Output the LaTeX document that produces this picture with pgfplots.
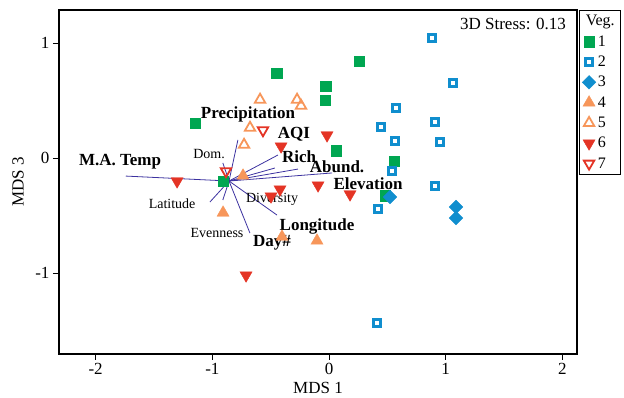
\documentclass[border=0pt]{standalone}
\usepackage{fontspec}
\setmainfont{Liberation Serif}
\usepackage{pgfplots}
\pgfplotsset{compat=1.18}
\definecolor{cg}{RGB}{0,166,81}
\definecolor{cb}{RGB}{16,142,206}
\definecolor{co}{RGB}{247,150,90}
\definecolor{cr}{RGB}{228,52,37}
\definecolor{cv}{RGB}{60,50,160}
\begin{document}
\begin{tikzpicture}[x=1pt,y=1pt]
\useasboundingbox (0,0) rectangle (624,398);
\begin{axis}[
  at={(59pt,44pt)}, anchor=south west,
  scale only axis, width=518pt, height=344pt,
  xmin=-2.314, xmax=2.125, ymin=-1.704, ymax=1.287,
  xtick={-2,-1,0,1,2}, ytick={-1,0,1},
  tick align=outside, xtick pos=bottom, ytick pos=left,
  major tick length=6pt,
  axis line style={line width=1.3pt},
  every tick/.style={black, line width=1pt},
  /pgf/number format/assume math mode=true,
  tick label style={font=\fontsize{17}{20}\selectfont},
  label style={font=\fontsize{17}{20}\selectfont},
  xlabel={MDS 1}, ylabel={MDS 3},
  xlabel style={at={(axis description cs:0.5,-0.099)}, anchor=center},
  ylabel style={at={(axis description cs:-0.079,0.5)}, anchor=center},
  legend style={at={(axis description cs:1.004,1)}, anchor=north west, draw=black,
    font=\fontsize{16}{19}\selectfont, row sep=4.3pt, inner xsep=3pt, inner ysep=3pt,
    cells={anchor=west}},
  legend image code/.code={\draw[#1, only marks] plot coordinates {(5pt,0pt)};},
]
\addlegendimage{empty legend}
\addlegendentry{\hspace*{-12pt}Veg.}
% group 1
\addplot[only marks, mark=square*, mark size=5.3pt, color=cg] coordinates {
(0.257,0.843) (-0.446,0.739) (-0.026,0.626) (-0.034,0.504) (-1.148,0.304)
(0.060,0.061) (0.557,-0.026) (0.480,-0.330) (-0.908,-0.200)};
\addlegendentry{1}
% group 2
\addplot[only marks, mark=square, mark size=3.7pt, color=cb, mark options={line width=3.1pt, fill=white}] coordinates {
(0.883,1.043) (1.063,0.652) (0.574,0.435) (0.446,0.270) (0.908,0.313)
(0.566,0.148) (0.951,0.139) (0.540,-0.113) (0.908,-0.243) (0.420,-0.443) (0.411,-1.435)};
\addlegendentry{2}
% group 3
\addplot[only marks, mark=square*, mark size=4.8pt, color=cb, mark options={rotate=45}] coordinates {
(0.523,-0.339) (1.088,-0.426) (1.088,-0.522)};
\addlegendentry{3}
% group 4
\addplot[only marks, mark=triangle*, mark size=7pt, color=co] coordinates {
(-0.908,-0.476) (-0.737,-0.154) (-0.403,-0.685) (-0.103,-0.719)};
\addlegendentry{4}
% group 5
\addplot[only marks, mark=triangle, mark size=6pt, color=co, mark options={line width=1.8pt, fill=white}] coordinates {
(-0.591,0.507) (-0.274,0.507) (-0.240,0.455) (-0.677,0.263) (-0.728,0.115)};
\addlegendentry{5}
% group 6
\addplot[only marks, mark=triangle*, mark size=7pt, color=cr, mark options={rotate=180}] coordinates {
(-1.302,-0.202) (-0.017,0.198) (-0.411,0.102) (-0.420,-0.272) (-0.094,-0.237)
(0.180,-0.315) (-0.711,-1.020) (-0.497,-0.333)};
\addlegendentry{6}
% group 7
\addplot[only marks, mark=triangle, mark size=6pt, color=cr, mark options={rotate=180, line width=1.8pt, fill=white}] coordinates {
(-0.566,0.241) (-0.883,-0.115)};
\addlegendentry{7}
% vectors
\addplot[cv, line width=0.8pt, forget plot] coordinates {(-0.857,-0.200) (-1.742,-0.157)};
\addplot[cv, line width=0.8pt, forget plot] coordinates {(-0.857,-0.200) (-0.910,-0.043)};
\addplot[cv, line width=0.8pt, forget plot] coordinates {(-0.857,-0.200) (-0.781,0.157)};
\addplot[cv, line width=0.8pt, forget plot] coordinates {(-0.857,-0.200) (-1.021,-0.383)};
\addplot[cv, line width=0.8pt, forget plot] coordinates {(-0.857,-0.200) (-0.910,-0.365)};
\addplot[cv, line width=0.8pt, forget plot] coordinates {(-0.857,-0.200) (-0.678,-0.652)};
\addplot[cv, line width=0.8pt, forget plot] coordinates {(-0.857,-0.200) (-0.446,-0.496)};
\addplot[cv, line width=0.8pt, forget plot] coordinates {(-0.857,-0.200) (-0.438,0.026)};
\addplot[cv, line width=0.8pt, forget plot] coordinates {(-0.857,-0.200) (-0.464,-0.087)};
\addplot[cv, line width=0.8pt, forget plot] coordinates {(-0.857,-0.200) (-0.266,-0.096)};
\addplot[cv, line width=0.8pt, forget plot] coordinates {(-0.857,-0.200) (0.026,-0.130)};
% labels
\begin{scope}[every node/.style={font=\bfseries\fontsize{17}{20}\selectfont, inner sep=0pt}]
\node at (axis cs:-1.791,-0.035) {M.A. Temp};
\node at (axis cs:-0.694,0.383) {Precipitation};
\node at (axis cs:-0.300,0.209) {AQI};
\node at (axis cs:-0.257,0.009) {Rich};
\node at (axis cs:0.069,-0.078) {Abund.};
\node at (axis cs:0.334,-0.226) {Elevation};
\node at (axis cs:-0.103,-0.591) {Longitude};
\node at (axis cs:-0.488,-0.739) {Day\#};
\end{scope}
\begin{scope}[every node/.style={font=\fontsize{14}{17}\selectfont, inner sep=0pt}]
\node at (axis cs:-1.028,0.035) {Dom.};
\node at (axis cs:-1.345,-0.400) {Latitude};
\node at (axis cs:-0.488,-0.357) {Diversity};
\node at (axis cs:-0.960,-0.652) {Evenness};
\end{scope}
\node[anchor=east, inner sep=0pt, font=\fontsize{17}{20}\selectfont] at (axis description cs:0.979,0.959) {3D Stress: 0.13};
\end{axis}
\end{tikzpicture}
\end{document}
